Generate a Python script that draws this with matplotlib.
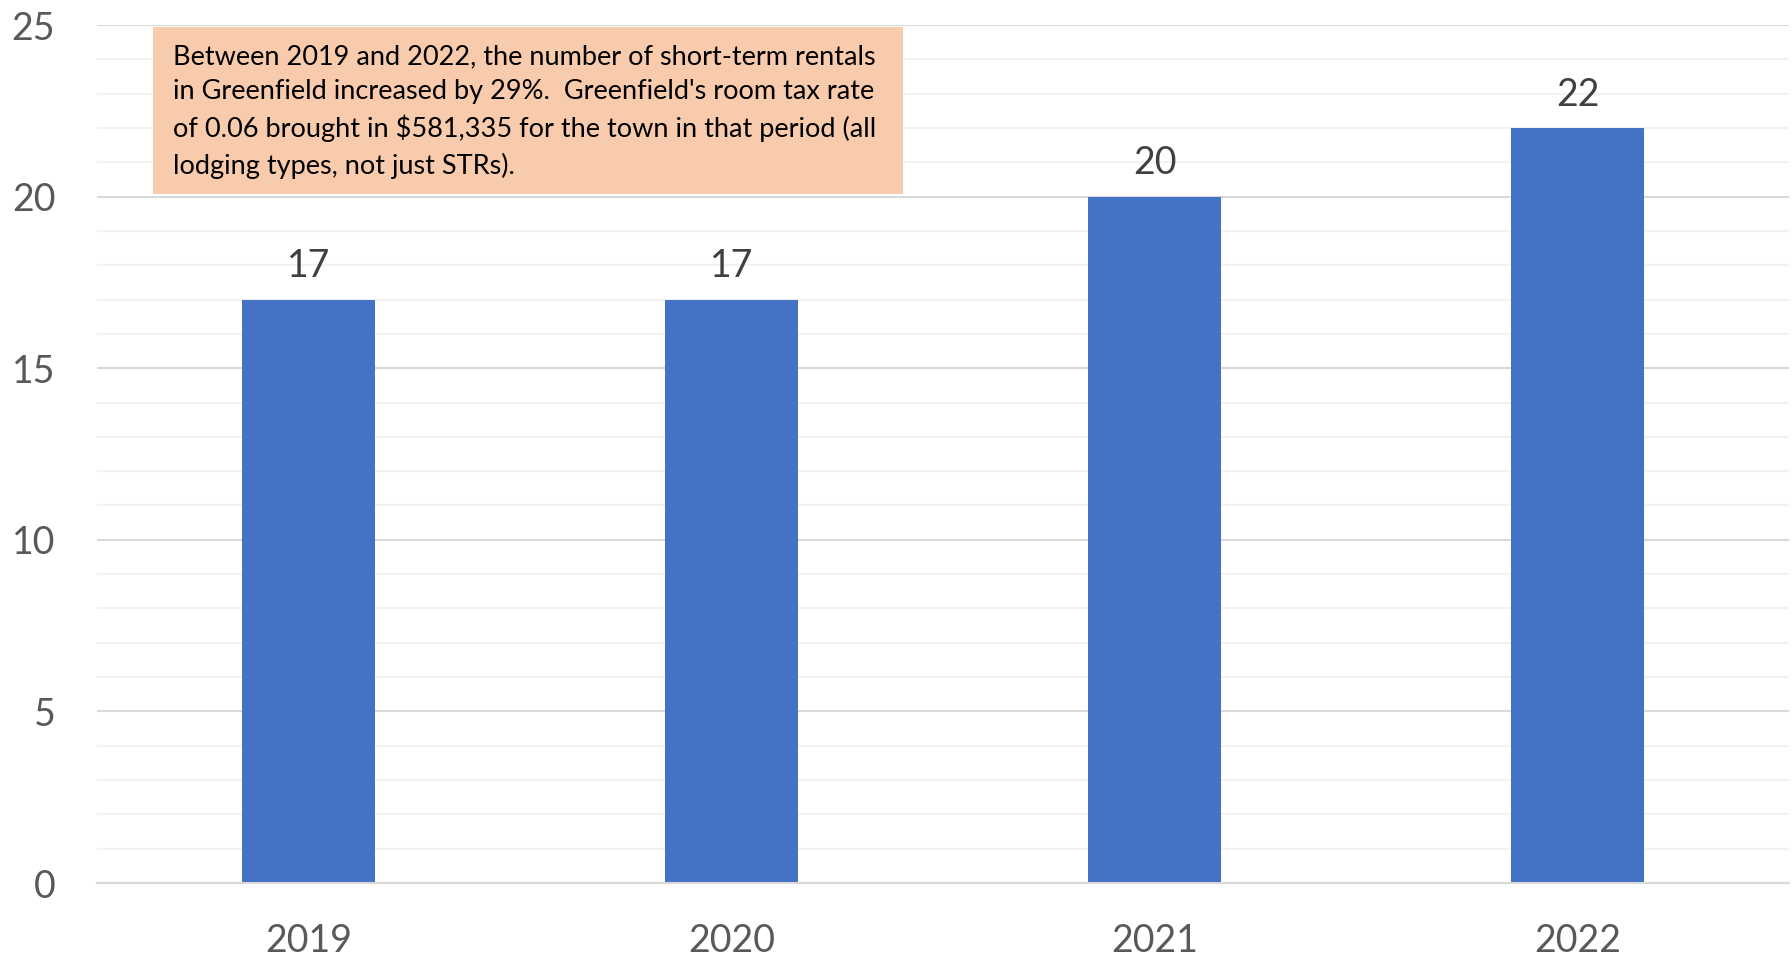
import matplotlib
matplotlib.use("Agg")
import matplotlib.pyplot as plt
from matplotlib.patches import Rectangle
from matplotlib.ticker import MultipleLocator

plt.rcParams['font.family'] = ['Lato', 'DejaVu Sans']

years = ["2019", "2020", "2021", "2022"]
rentals = [17, 17, 20, 22]
y_ticks = [0, 5, 10, 15, 20, 25]
note = ("Between 2019 and 2022, the number of short-term rentals\n"
        "in Greenfield increased by 29%.  Greenfield's room tax rate\n"
        "of 0.06 brought in $581,335 for the town in that period (all\n"
        "lodging types, not just STRs).")

W, H = 1792, 956
fig = plt.figure(figsize=(W / 100, H / 100), dpi=100)
ax = fig.add_axes([97 / W, 1 - 883 / H, (1789 - 97) / W, (883 - 25) / H])

x = list(range(len(years)))
bars = ax.bar(x, rentals, width=0.315, color="#4472C4", zorder=3)

ax.set_xlim(-0.5, len(years) - 0.5)
ax.set_ylim(0, 25)
ax.set_yticks(y_ticks)
ax.yaxis.set_minor_locator(MultipleLocator(1))
ax.set_xticks(x)
ax.set_xticklabels(years)

ax.grid(axis="y", which="major", color="#D9D9D9", linewidth=1.5, zorder=0)
ax.grid(axis="y", which="minor", color="#F2F2F2", linewidth=1.5, zorder=0)
ax.tick_params(axis="y", which="both", length=0, labelsize=27, labelcolor="#595959", pad=30)
ax.tick_params(axis="x", length=0, labelsize=27, labelcolor="#595959", pad=29)

for side in ("left", "right", "top"):
    ax.spines[side].set_visible(False)
ax.spines["bottom"].set_color("#D9D9D9")
ax.spines["bottom"].set_linewidth(1.5)
ax.spines["bottom"].set_zorder(4)

for rect, v in zip(bars, rentals):
    ax.annotate(str(v), (rect.get_x() + rect.get_width() / 2, v),
                xytext=(0, 11), textcoords="offset points",
                ha="center", va="bottom", fontsize=27, color="#404040")

# note box in figure pixels
box = Rectangle((153 / W, 1 - 194 / H), (903 - 153) / W, (194 - 27) / H,
                transform=fig.transFigure, facecolor="#F8CBAD", edgecolor="none", zorder=5)
fig.patches.append(box)
fig.text(173 / W, 1 - 44 / H, note, ha="left", va="top", fontsize=19.5,
         color="black", linespacing=1.49, zorder=6)

fig.savefig("out.png", dpi=100)
